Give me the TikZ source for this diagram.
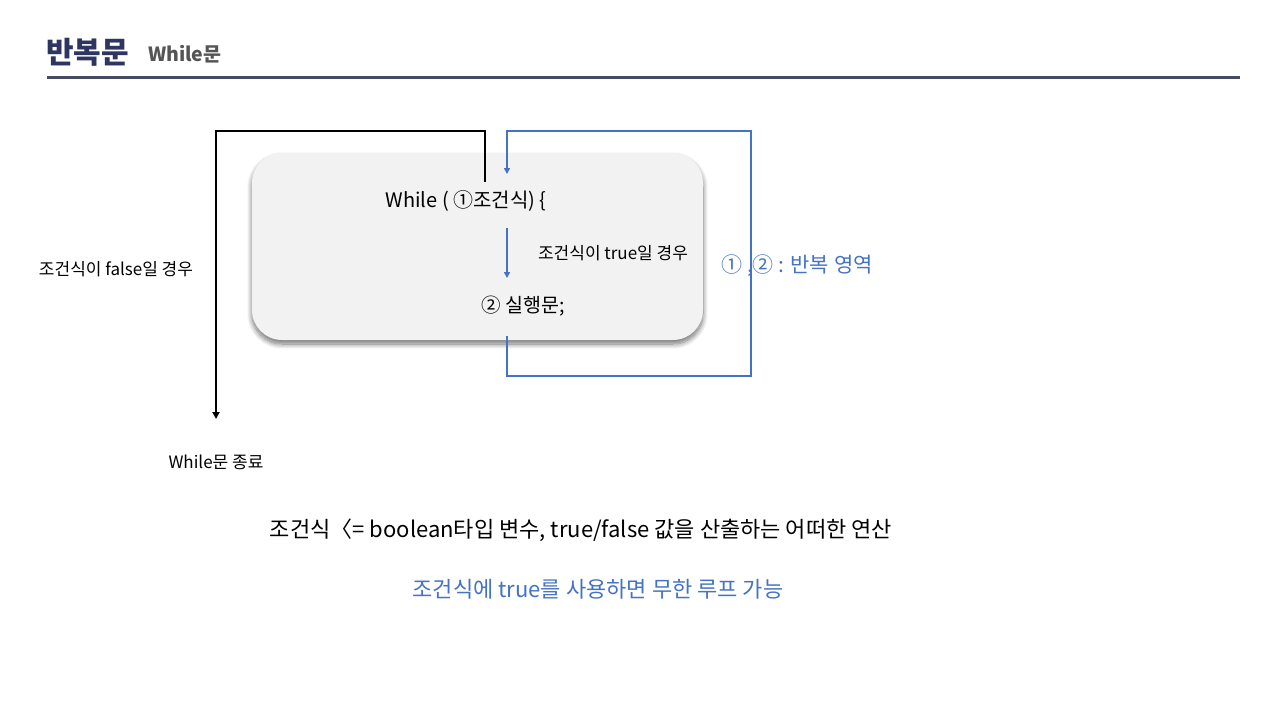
\documentclass[tikz,border=0pt]{standalone}
\usepackage{fontspec}
\setmainfont{Noto Sans CJK KR}
\usetikzlibrary{arrows.meta,shadows.blur,calc}
\definecolor{titlec}{HTML}{2E3560}
\definecolor{subc}{HTML}{555555}
\definecolor{rulec}{HTML}{464B63}
\definecolor{blu}{HTML}{4472C4}
\definecolor{boxc}{HTML}{F2F2F2}
\tikzset{
  lbl/.style={inner sep=0pt, font=\fontsize{17}{20}\selectfont},
  mid/.style={inner sep=0pt, font=\fontsize{19.5}{23}\selectfont},
  big/.style={inner sep=0pt, font=\fontsize{22}{26}\selectfont},
  blk/.style={draw=black, line width=2pt, -{Triangle[length=7pt,width=7pt]}},
  bl/.style={draw=blu, line width=1.5pt, -{Triangle[length=6pt,width=6pt]}},
  codebox/.style={draw=none, fill=boxc, rounded corners=30pt, minimum width=451pt, minimum height=187pt,
     blur shadow={shadow xshift=0pt, shadow yshift=-4pt, shadow blur radius=5pt, shadow blur steps=10, shadow opacity=55}}
}
\begin{document}
\begin{tikzpicture}[x=1pt,y=-1pt]
\useasboundingbox (0,0) rectangle (1280,720);
% title
\node[anchor=west, inner sep=0pt, text=titlec, font=\fontsize{30}{34}\selectfont\bfseries] (title) at (46,52) {반복문};
\node[anchor=west, inner sep=0pt, text=subc, font=\fontsize{19.5}{22}\selectfont\bfseries] (sub) at (148,54) {While문};
\coordinate (r1) at (47,77);
\coordinate (r2) at (1240,77);
\draw[rulec, line width=3pt] (r1) -- (r2);
% box
\node[codebox] (box) at (477.5,246.5) {};
\node[mid, font=\fontsize{20}{24}\selectfont] (while) at (466,201) {While ( ①조건식) \{};
\node[lbl] (truel) at (613,253) {조건식이 true일 경우};
\node[mid] (exec) at (523,306) {② 실행문;};
\node[lbl] (falsel) at (116,269) {조건식이 false일 경우};
\node[lbl] (endl) at (216,462) {While문 종료};
\node[big, text=blu, font=\fontsize{21}{25}\selectfont] (region) at (797,266) {① ,② : 반복 영역};
\node[big] (note1) at (581,530) {조건식〈= boolean타입 변수, true/false 값을 산출하는 어떠한 연산};
\node[big, text=blu] (note2) at (598,589) {조건식에 true를 사용하면 무한 루프 가능};
% black false path
\coordinate (bstart) at (485,182);
\coordinate (bend) at (216,419);
\draw[blk] (bstart) |- (216,131) -- (bend);
% blue loop
\coordinate (lstart) at (507,336);
\coordinate (lend) at (507,174);
\draw[bl] (lstart) -- (507,376) -- (751,376) -- (751,131) -- (507,131) -- (lend);
% blue true arrow
\coordinate (tstart) at (507,228);
\coordinate (tend) at (507,278);
\draw[bl] (tstart) -- (tend);
\end{tikzpicture}
\end{document}
